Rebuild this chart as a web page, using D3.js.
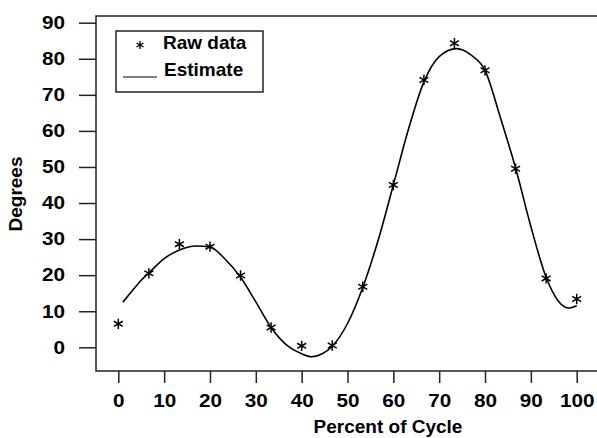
<!DOCTYPE html>
<html>
<head>
<meta charset="utf-8">
<script src="https://cdn.jsdelivr.net/npm/d3@7"></script>
<style>
  body { margin: 0; background: #fff; }
  text { font-family: "Liberation Sans", Arial, sans-serif; font-weight: bold; fill: #000; }
</style>
</head>
<body>
<div id="chart"></div>
<script>
// raw samples, one every 1/15 of the cycle
var rawX = [0, 6.67, 13.33, 20, 26.67, 33.33, 40, 46.67, 53.33, 60, 66.67, 73.33, 80, 86.67, 93.33, 100];
var rawY = [6.5, 20.5, 28.6, 27.9, 19.9, 5.5, 0.4, 0.5, 16.8, 45, 74.1, 84.3, 76.8, 49.5, 19.1, 13.4];

// smooth estimate
var estX = [1, 3, 5, 6.67, 10, 13.33, 17, 20, 23.33, 26.67, 30, 33.33, 36.67, 40, 42.2, 44.5, 46.67,
  50, 53.33, 56.67, 60, 63.33, 66.67, 70, 73.8, 77, 80, 83.33, 86.67, 90, 93.33, 96, 98.4, 100];
var estY = [12.5, 15.6, 18.6, 20.6, 24.6, 27.0, 28.1, 27.8, 24.4, 19.4, 12.6, 5.5, 0.7, -1.8, -2.6, -1.8, 0.3,
  6.6, 16.6, 29.6, 45, 60.6, 73.6, 80.6, 82.8, 81, 76.8, 63.8, 49.7, 33.5, 19.4, 12.8, 10.9, 11.5];

var xTicks = [0, 10, 20, 30, 40, 50, 60, 70, 80, 90, 100];
var yTicks = [0, 10, 20, 30, 40, 50, 60, 70, 80, 90];

var width = 597, height = 438;
var frame = {left: 96, top: 16, right: 690, bottom: 371};

var svg = d3.select('#chart').append('svg')
  .attr('width', width)
  .attr('height', height);

var x = d3.scaleLinear().domain([0, 100]).range([118.3, 576.7]);
var y = d3.scaleLinear().domain([0, 90]).range([347.3, 22.7]);

// plot frame (right side runs off the picture)
svg.append('rect')
  .attr('x', frame.left)
  .attr('y', frame.top)
  .attr('width', frame.right - frame.left)
  .attr('height', frame.bottom - frame.top)
  .attr('fill', 'none')
  .attr('stroke', '#222')
  .attr('stroke-width', 1.5);

// tick labels are drawn a bit wide, like the original
var stretch = 1.15;

var yAxis = svg.append('g')
  .attr('transform', 'translate(' + frame.left + ',0)')
  .call(d3.axisLeft(y).tickValues(yTicks).tickSize(17).tickPadding(14).tickFormat(d3.format('d')));
yAxis.select('.domain').remove();
yAxis.selectAll('line').attr('stroke', '#222').attr('stroke-width', 1.5);
yAxis.selectAll('text')
  .attr('font-size', 18)
  .attr('font-family', '"Liberation Sans", Arial, sans-serif')
  .attr('font-weight', 'bold')
  .attr('fill', '#000')
  .attr('x', -31 / stretch)
  .attr('transform', 'scale(' + stretch + ',1)');

var xAxis = svg.append('g')
  .attr('transform', 'translate(0,' + frame.bottom + ')')
  .call(d3.axisBottom(x).tickValues(xTicks).tickSize(12).tickPadding(11).tickFormat(d3.format('d')));
xAxis.select('.domain').remove();
xAxis.selectAll('line').attr('stroke', '#222').attr('stroke-width', 1.5);
xAxis.selectAll('text')
  .attr('font-size', 18)
  .attr('font-family', '"Liberation Sans", Arial, sans-serif')
  .attr('font-weight', 'bold')
  .attr('fill', '#000')
  .attr('transform', 'scale(' + stretch + ',1)');

// axis titles
svg.append('text')
  .attr('x', 388)
  .attr('y', 433)
  .attr('text-anchor', 'middle')
  .attr('font-size', 19)
  .text('Percent of Cycle');

svg.append('text')
  .attr('transform', 'translate(22,194) rotate(-90)')
  .attr('text-anchor', 'middle')
  .attr('font-size', 19)
  .text('Degrees');

// estimate curve
var estimate = estX.map(function(d, i) { return [d, estY[i]]; });
var line = d3.line()
  .x(function(d) { return x(d[0]); })
  .y(function(d) { return y(d[1]); })
  .curve(d3.curveMonotoneX);

svg.append('path')
  .datum(estimate)
  .attr('d', line)
  .attr('fill', 'none')
  .attr('stroke', '#000')
  .attr('stroke-width', 1.6);

// raw data asterisks
var star = d3.symbol().type(d3.symbolAsterisk).size(75);
svg.selectAll('path.raw')
  .data(rawX)
  .enter()
  .append('path')
  .classed('raw', true)
  .attr('transform', function(d, i) {
    return 'translate(' + x(d) + ',' + y(rawY[i]) + ')';
  })
  .attr('d', star)
  .attr('fill', 'none')
  .attr('stroke', '#000')
  .attr('stroke-width', 1.5);

// legend
var legend = svg.append('g');
legend.append('rect')
  .attr('x', 116)
  .attr('y', 31)
  .attr('width', 147)
  .attr('height', 61)
  .attr('fill', '#fff')
  .attr('stroke', '#000')
  .attr('stroke-width', 1.3);
legend.append('path')
  .attr('transform', 'translate(140,45)')
  .attr('d', d3.symbol().type(d3.symbolAsterisk).size(45))
  .attr('fill', 'none')
  .attr('stroke', '#000')
  .attr('stroke-width', 1.3);
legend.append('line')
  .attr('x1', 123).attr('x2', 157)
  .attr('y1', 77).attr('y2', 77)
  .attr('stroke', '#000')
  .attr('stroke-width', 1);
legend.append('text')
  .attr('x', 163)
  .attr('y', 49)
  .attr('font-size', 19)
  .text('Raw data');
legend.append('text')
  .attr('x', 164)
  .attr('y', 76)
  .attr('font-size', 19)
  .text('Estimate');
</script>
</body>
</html>
